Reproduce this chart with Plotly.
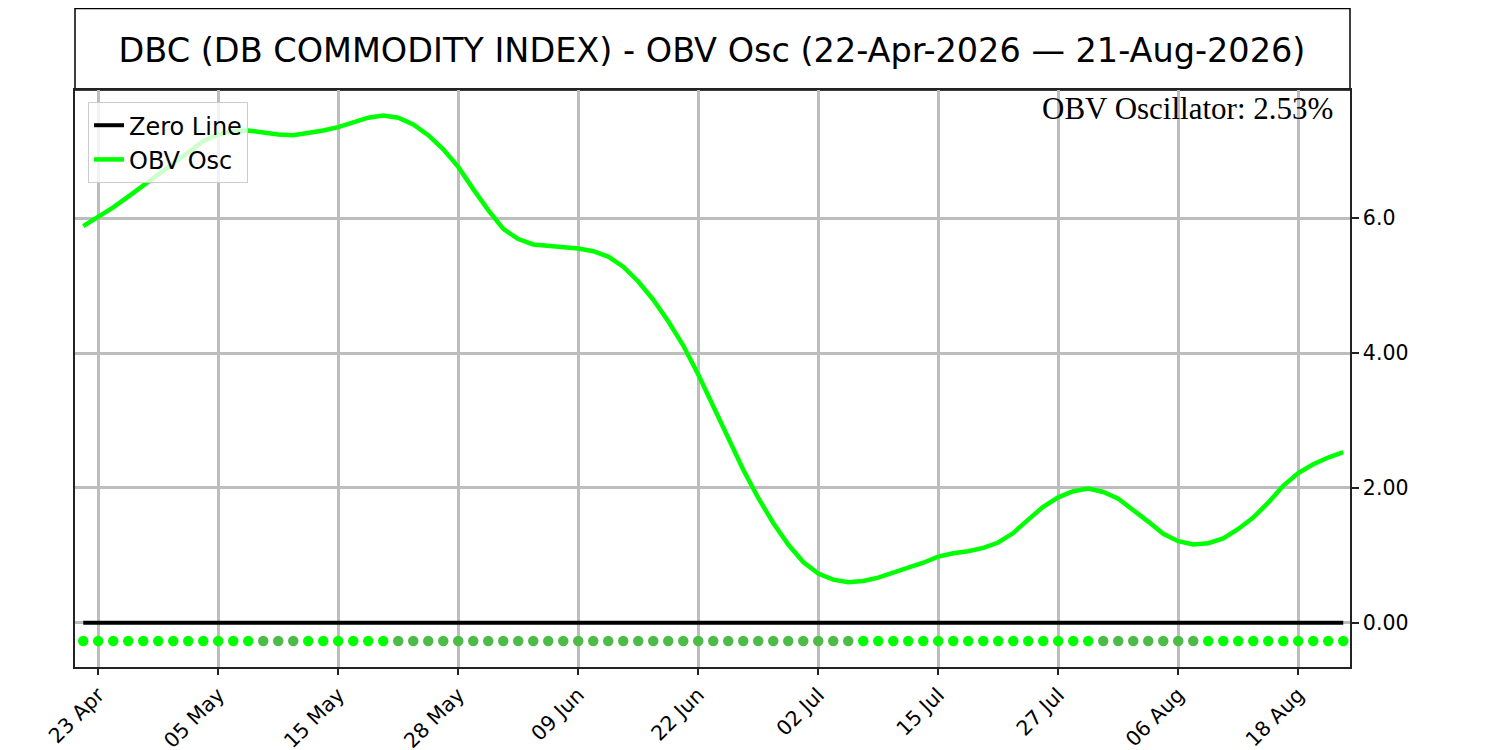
import pandas as pd
import plotly.graph_objects as go

# --- dane ---
ticker_name = "DBC (DB COMMODITY INDEX)"
start_label = "22-Apr-2026"
end_label = "21-Aug-2026"

# sesje NYSE 22.04 - 21.08.2026 (bez swiat)
holidays = ["2026-05-25", "2026-06-19", "2026-07-03"]
sessions = [d for d in pd.bdate_range("2026-04-22", "2026-08-21").strftime("%Y-%m-%d")
            if d not in holidays]

obv_osc = [
    5.88, 6.02, 6.16, 6.32, 6.48, 6.64, 6.81, 6.98, 7.14, 7.24,
    7.29, 7.30, 7.27, 7.24, 7.23, 7.26, 7.30, 7.35, 7.42, 7.49,
    7.52, 7.49, 7.39, 7.23, 7.02, 6.76, 6.43, 6.12, 5.84, 5.69,
    5.61, 5.59, 5.58, 5.55, 5.51, 5.43, 5.28, 5.06, 4.79, 4.47,
    4.11, 3.68, 3.21, 2.72, 2.27, 1.85, 1.48, 1.16, 0.90, 0.73,
    0.64, 0.60, 0.62, 0.67, 0.74, 0.81, 0.89, 0.98, 1.03, 1.06,
    1.11, 1.19, 1.33, 1.53, 1.72, 1.86, 1.95, 1.99, 1.94, 1.84,
    1.68, 1.50, 1.32, 1.21, 1.16, 1.18, 1.25, 1.39, 1.56, 1.78,
    2.03, 2.22, 2.35, 2.45, 2.53,
]
signal_level = -0.27

y_ticks = [0, 2, 4, 6]
y_tick_labels = ["0.00", "2.00", "4.00", "6.0"]

# etykiety osi X co 8 sesji, od 23 Apr
x_tick_vals = sessions[1::8]
x_tick_labels = [pd.Timestamp(d).strftime("%d %b") for d in x_tick_vals]

# kolor kropek: rosnie = lime, spada = ciemniejsza zielen
dot_colors = ["#00ff00"]
for prev, cur in zip(obv_osc[:-1], obv_osc[1:]):
    dot_colors.append("#00ff00" if cur >= prev else "#4cbb47")

fig = go.Figure()
fig.add_trace(go.Scatter(
    x=sessions, y=[0] * len(sessions), mode="lines",
    line=dict(color="black", width=4), name="Zero Line",
))
fig.add_trace(go.Scatter(
    x=sessions, y=obv_osc, mode="lines",
    line=dict(color="#00ff00", width=4.5), name="OBV Osc",
))
fig.add_trace(go.Scatter(
    x=sessions, y=[signal_level] * len(sessions), mode="markers",
    marker=dict(color=dot_colors, size=10.5), showlegend=False,
))

# ramka z tytulem nad wykresem
fig.add_shape(type="rect", xref="paper", yref="paper", x0=0, x1=1, y0=1, y1=1.1412,
              line=dict(color="black", width=1.5), fillcolor="white", layer="below")

fig.add_annotation(
    text=f"OBV Oscillator: {obv_osc[-1]:.2f}%", xref="paper", yref="paper",
    x=0.988, y=0.968, xanchor="right", yanchor="middle", showarrow=False,
    font=dict(family="Liberation Serif", size=31, color="black"),
)

fig.update_layout(
    title=dict(text=f"{ticker_name} - OBV Osc ({start_label} \u2014 {end_label})",
               x=0.4693, xanchor="center", y=0.944, yanchor="middle",
               font=dict(family="DejaVu Sans", size=33.5, color="black")),
    width=1500, height=750,
    margin=dict(l=67, r=158, t=82, b=91),
    paper_bgcolor="white", plot_bgcolor="white",
    font=dict(family="DejaVu Sans", color="black"),
    legend=dict(x=0.0102, y=0.979, xanchor="left", yanchor="top",
                bgcolor="rgba(255,255,255,0.8)", bordercolor="#cccccc", borderwidth=1,
                font=dict(size=24), itemwidth=30, tracegroupgap=0),
)
fig.update_xaxes(
    type="category", range=[-0.55, 84.45], automargin=False,
    tickvals=x_tick_vals, ticktext=x_tick_labels, tickangle=-45,
    ticks="outside", ticklen=6, tickwidth=1.5, tickcolor="#222",
    tickfont=dict(size=20.5),
    showgrid=True, gridcolor="#bdbdbd", gridwidth=3.3,
    showline=True, mirror=True, linecolor="#222", linewidth=1.5,
)
fig.update_yaxes(
    side="right", range=[-0.656, 7.9], automargin=False,
    tickvals=y_ticks, ticktext=y_tick_labels,
    ticks="outside", ticklen=7, tickwidth=1.5, tickcolor="#222",
    tickfont=dict(size=20.5),
    showgrid=True, gridcolor="#bdbdbd", gridwidth=3.3, zeroline=False,
    showline=True, mirror=True, linecolor="#222", linewidth=1.5,
)

fig.write_html("out.html")
